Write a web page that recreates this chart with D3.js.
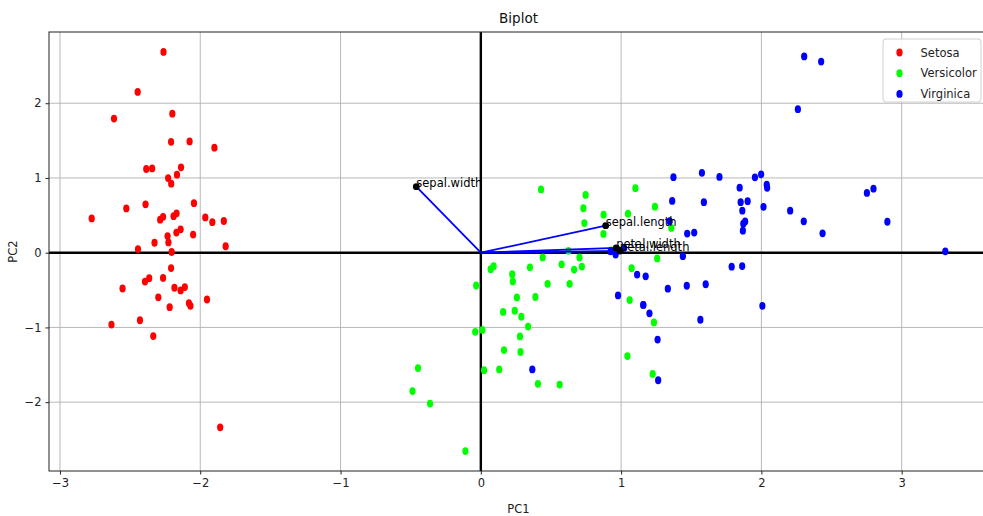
<!DOCTYPE html>
<html>
<head>
<meta charset="utf-8">
<script src="https://cdn.jsdelivr.net/npm/d3@7"></script>
<style>
  html, body { margin: 0; padding: 0; background: #fff; }
  svg { display: block; font-family: "DejaVu Sans", sans-serif; }
</style>
</head>
<body>
<svg id="chart" width="983" height="516"></svg>
<script>
// PCA scores (standardised iris measurements), one pair of arrays per species
const setosaPC1 = [-2.265,-2.081,-2.364,-2.299,-2.390,-2.076,-2.444,-2.233,-2.335,-2.184,-2.166,-2.326,-2.218,-2.633,-2.199,-2.262,-2.208,-2.190,-1.899,-2.343,-1.914,-2.207,-2.774,-1.819,-2.227,-1.952,-2.051,-2.169,-2.140,-2.265,-2.140,-1.832,-2.615,-2.446,-2.110,-2.208,-2.045,-2.527,-2.430,-2.170,-2.286,-1.858,-2.554,-1.964,-2.137,-2.070,-2.385,-2.394,-2.229,-2.204];
const setosaPC2 = [0.480,-0.674,-0.342,-0.597,0.647,1.489,0.048,0.223,-1.115,-0.469,1.044,0.133,-0.729,-0.962,1.860,2.686,1.484,0.489,1.405,1.128,0.409,0.924,0.458,0.086,0.137,-0.626,0.242,0.527,0.313,-0.338,-0.505,0.424,1.794,2.151,-0.460,-0.206,0.662,0.592,-0.904,0.269,0.442,-2.337,-0.479,0.472,1.142,-0.711,1.120,-0.386,0.998,0.009];

const versicolorPC1 = [1.102,0.731,1.241,0.407,1.075,0.389,0.747,-0.487,0.928,0.011,-0.110,0.441,0.562,0.720,-0.033,0.875,0.350,0.159,1.225,0.165,0.738,0.476,1.234,0.633,0.703,0.874,1.257,1.358,0.665,-0.040,0.131,0.023,0.242,1.061,0.224,0.429,1.049,1.045,0.070,0.283,0.279,0.625,0.337,-0.362,0.289,0.091,0.228,0.576,-0.448,0.257];
const versicolorPC2 = [0.863,0.595,0.616,-1.754,-0.208,-0.593,0.773,-1.852,0.032,-1.034,-2.654,-0.063,-1.765,-0.186,-0.439,0.509,-0.196,-0.792,-1.622,-1.303,0.397,-0.417,-0.933,-0.416,-0.063,0.251,-0.077,0.331,-0.226,-1.059,-1.562,-1.572,-0.777,-0.634,-0.288,0.846,0.522,-1.383,-0.220,-1.329,-1.120,0.025,-0.988,-2.019,-0.856,-0.181,-0.385,-0.155,-1.544,-0.599];

const virginicaPC1 = [1.845,1.158,2.205,1.440,1.868,2.752,0.367,2.302,2.007,2.260,1.364,1.603,1.884,1.260,1.468,1.590,1.471,2.426,3.311,1.264,2.038,0.978,2.898,1.333,1.701,1.954,1.175,1.021,1.788,1.864,2.436,2.305,1.863,1.114,1.202,2.799,1.576,1.346,0.925,1.852,2.015,1.902,1.158,2.041,1.998,1.871,1.565,1.521,1.373,0.961];
const virginicaPC2 = [0.870,-0.699,0.562,-0.047,0.295,0.800,-1.562,0.420,-0.711,1.921,0.693,-0.422,0.419,-1.162,-0.442,0.676,0.256,2.557,0.018,-1.707,0.910,-0.572,0.414,-0.482,1.014,1.008,-0.316,0.064,-0.187,0.562,0.259,2.626,-0.179,-0.293,-0.811,0.857,1.069,0.422,0.017,0.676,0.614,0.690,-0.699,0.868,1.049,0.387,-0.897,0.269,1.011,-0.024];

// Variable loadings (arrows)
const featureNames = ["sepal.length", "sepal.width", "petal.length", "petal.width"];
const loadingPC1 = [0.890, -0.460, 0.992, 0.965];
const loadingPC2 = [0.361, 0.883, 0.023, 0.064];

const speciesNames = ["Setosa", "Versicolor", "Virginica"];
const speciesColors = ["#ff0000", "#00ff00", "#0000ff"];

const xTicks = [-3, -2, -1, 0, 1, 2, 3];
const yTicks = [-2, -1, 0, 1, 2];

(function () {
  const groups = [
    { name: speciesNames[0], color: speciesColors[0], x: setosaPC1, y: setosaPC2 },
    { name: speciesNames[1], color: speciesColors[1], x: versicolorPC1, y: versicolorPC2 },
    { name: speciesNames[2], color: speciesColors[2], x: virginicaPC1, y: virginicaPC2 }
  ];

  const svg = d3.select("#chart");
  const pL = 49, pR = 988, pT = 32, pB = 471;

  // 5% padding around the data extent
  const allX = groups.flatMap(g => g.x), allY = groups.flatMap(g => g.y);
  const pad = (ext) => { const r = ext[1] - ext[0]; return [ext[0] - 0.05 * r, ext[1] + 0.05 * r]; };
  const x = d3.scaleLinear().domain(pad(d3.extent(allX))).range([pL, pR]);
  const y = d3.scaleLinear().domain(pad(d3.extent(allY))).range([pB, pT]);

  svg.append("defs").append("clipPath").attr("id", "plotClip")
    .append("rect").attr("x", pL).attr("y", pT).attr("width", pR - pL).attr("height", pB - pT);

  const plot = svg.append("g").attr("clip-path", "url(#plotClip)");

  // grid
  plot.append("g").selectAll("line").data(xTicks).join("line")
    .attr("x1", d => x(d)).attr("x2", d => x(d)).attr("y1", pT).attr("y2", pB)
    .attr("stroke", "#b0b0b0").attr("stroke-width", 0.9);
  plot.append("g").selectAll("line").data(yTicks).join("line")
    .attr("y1", d => y(d)).attr("y2", d => y(d)).attr("x1", pL).attr("x2", pR)
    .attr("stroke", "#b0b0b0").attr("stroke-width", 0.9);

  // zero lines
  plot.append("line").attr("x1", pL).attr("x2", pR).attr("y1", y(0)).attr("y2", y(0))
    .attr("stroke", "#000").attr("stroke-width", 2.4);
  plot.append("line").attr("x1", x(0)).attr("x2", x(0)).attr("y1", pT).attr("y2", pB)
    .attr("stroke", "#000").attr("stroke-width", 2.4);

  // score points
  groups.forEach(g => {
    plot.append("g").selectAll("ellipse").data(g.x.map((v, i) => [v, g.y[i]])).join("ellipse")
      .attr("cx", d => x(d[0])).attr("cy", d => y(d[1]))
      .attr("rx", 3.1).attr("ry", 3.9)
      .attr("fill", g.color);
  });

  // loading arrows
  const loadings = featureNames.map((n, i) => ({ name: n, px: loadingPC1[i], py: loadingPC2[i] }));
  plot.append("g").selectAll("line").data(loadings).join("line")
    .attr("x1", x(0)).attr("y1", y(0))
    .attr("x2", d => x(d.px)).attr("y2", d => y(d.py))
    .attr("stroke", "#0000ff").attr("stroke-width", 1.8);
  plot.append("g").selectAll("circle").data(loadings).join("circle")
    .attr("cx", d => x(d.px)).attr("cy", d => y(d.py)).attr("r", 3.4)
    .attr("fill", "#000");
  plot.append("g").selectAll("text").data(loadings).join("text")
    .attr("x", d => x(d.px)).attr("y", d => y(d.py))
    .attr("font-size", "11.5px").attr("fill", "#000")
    .text(d => d.name);

  // spines (right side runs past the canvas)
  svg.append("rect").attr("x", pL).attr("y", pT).attr("width", pR - pL).attr("height", pB - pT)
    .attr("stroke", "#222").attr("stroke-width", 1).attr("fill", "none");

  // axes
  const fmt = d => d < 0 ? "\u2212" + Math.abs(d) : String(d);
  const xAxis = svg.append("g").attr("transform", `translate(0,${pB})`)
    .call(d3.axisBottom(x).tickValues(xTicks).tickSize(3.5).tickPadding(4).tickFormat(fmt));
  const yAxis = svg.append("g").attr("transform", `translate(${pL},0)`)
    .call(d3.axisLeft(y).tickValues(yTicks).tickSize(3.5).tickPadding(4).tickFormat(fmt));
  [xAxis, yAxis].forEach(a => {
    a.select(".domain").remove();
    a.selectAll(".tick line").attr("stroke", "#222");
    a.selectAll(".tick text").attr("font-size", "11.5px").attr("fill", "#222")
      .attr("font-family", "DejaVu Sans, sans-serif");
  });

  // title and axis labels
  svg.append("text").attr("x", (pL + pR) / 2).attr("y", 23).attr("text-anchor", "middle")
    .attr("font-size", "13.5px").attr("fill", "#111").text("Biplot");
  svg.append("text").attr("x", (pL + pR) / 2).attr("y", 513).attr("text-anchor", "middle")
    .attr("font-size", "11.5px").attr("fill", "#222").text("PC1");
  svg.append("text").attr("transform", `translate(17,${(pT + pB) / 2}) rotate(-90)`).attr("text-anchor", "middle")
    .attr("font-size", "11.5px").attr("fill", "#222").text("PC2");

  // legend
  const legend = svg.append("g").attr("transform", "translate(883,39)");
  legend.append("rect").attr("width", 98).attr("height", 63).attr("rx", 3)
    .attr("fill", "#fff").attr("fill-opacity", 0.85).attr("stroke", "#d0d0d0");
  groups.forEach((g, i) => {
    const row = legend.append("g").attr("transform", `translate(0,${13.5 + i * 20.7})`);
    row.append("ellipse").attr("cx", 16.5).attr("cy", 0).attr("rx", 3.1).attr("ry", 3.9).attr("fill", g.color);
    row.append("text").attr("x", 37.5).attr("y", 0).attr("dy", "0.35em")
      .attr("font-size", "11.5px").attr("fill", "#222").text(g.name);
  });
})();
</script>
</body>
</html>
